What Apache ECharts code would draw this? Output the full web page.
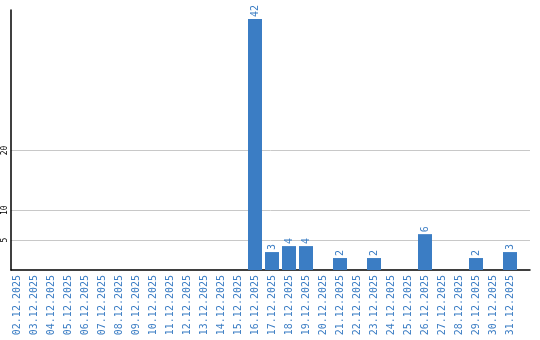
<!DOCTYPE html>
<html>
<head>
<meta charset="utf-8">
<script src="https://cdn.jsdelivr.net/npm/echarts@6/dist/echarts.min.js"></script>
<style>
  html, body { margin: 0; padding: 0; background: #fff; }
  #chart { width: 540px; height: 340px; }
</style>
</head>
<body>
<div id="chart"></div>
<script>
// daily counts, December 2025
const days = [
  "02.12.2025", "03.12.2025", "04.12.2025", "05.12.2025", "06.12.2025",
  "07.12.2025", "08.12.2025", "09.12.2025", "10.12.2025", "11.12.2025",
  "12.12.2025", "13.12.2025", "14.12.2025", "15.12.2025", "16.12.2025",
  "17.12.2025", "18.12.2025", "19.12.2025", "20.12.2025", "21.12.2025",
  "22.12.2025", "23.12.2025", "24.12.2025", "25.12.2025", "26.12.2025",
  "27.12.2025", "28.12.2025", "29.12.2025", "30.12.2025", "31.12.2025"
];
const counts = [
  0, 0, 0, 0, 0,
  0, 0, 0, 0, 0,
  0, 0, 0, 0, 42,
  3, 4, 4, 0, 2,
  0, 2, 0, 0, 6,
  0, 0, 2, 0, 3
];
const yTicks = [5, 10, 20];
const yMax = 43.5;

const blue = "#3b7dc4";
const font = "DejaVu Sans Mono";
const chart = echarts.init(document.getElementById("chart"));
chart.setOption({
  animation: false,
  grid: [
    // bars + category labels
    { left: 8.5, right: 21.5, top: 10, bottom: 70 },
    // frame, gridlines and value labels
    { left: 11, right: 10, top: 10, bottom: 70 }
  ],
  xAxis: [
    {
      type: "category",
      gridIndex: 0,
      data: days,
      axisLine: { show: false },
      axisTick: { show: false },
      axisLabel: {
        interval: 0,
        rotate: 90,
        margin: 5,
        color: blue,
        fontFamily: font,
        fontSize: 10
      }
    },
    {
      type: "value",
      gridIndex: 1,
      min: 0,
      max: 1,
      axisLine: { show: true, lineStyle: { color: "#000", width: 1.5 } },
      axisTick: { show: false },
      axisLabel: { show: false },
      splitLine: { show: false }
    }
  ],
  yAxis: [
    {
      type: "value",
      gridIndex: 0,
      min: 0,
      max: yMax,
      axisLine: { show: false },
      axisTick: { show: false },
      axisLabel: { show: false },
      splitLine: { show: false }
    },
    {
      type: "value",
      gridIndex: 1,
      min: 0,
      max: yMax,
      axisLine: { show: true, lineStyle: { color: "#000", width: 1.5 } },
      axisTick: { show: false, customValues: yTicks },
      splitLine: { show: true, lineStyle: { color: "#c8c8c8", width: 1 } },
      axisLabel: {
        customValues: yTicks,
        rotate: 90,
        margin: 2,
        color: "#000",
        fontFamily: font,
        fontSize: 8
      }
    }
  ],
  series: [
    {
      type: "bar",
      xAxisIndex: 0,
      yAxisIndex: 0,
      data: counts,
      barWidth: 14,
      itemStyle: { color: blue },
      label: {
        show: true,
        position: "top",
        rotate: 90,
        align: "left",
        verticalAlign: "middle",
        distance: 2,
        color: blue,
        fontFamily: font,
        fontSize: 10,
        formatter: p => (p.value ? p.value : "")
      }
    }
  ]
});
</script>
</body>
</html>
